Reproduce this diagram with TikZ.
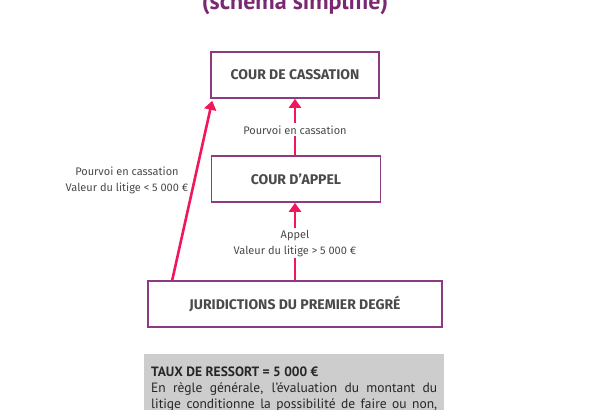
\documentclass[tikz,border=0pt]{standalone}
\usepackage{fontspec}
\setmainfont{Fira Sans}
\newfontfamily\boxfont{PT Sans}
\usetikzlibrary{arrows.meta}
\definecolor{titlepurple}{HTML}{7A2870}
\definecolor{framepurple}{HTML}{8C3A82}
\definecolor{arrowpink}{HTML}{F0185A}
\definecolor{textgrey}{HTML}{4A4A4A}
\definecolor{boxgrey}{HTML}{CDCDCD}
\begin{document}
\begin{tikzpicture}[x=1pt, y=-1pt,
    court/.style={draw=framepurple, line width=1.6pt, fill=white, minimum height=46pt,
        font=\fontsize{14}{16}\selectfont\bfseries, text=textgrey},
    link/.style={draw=arrowpink, line width=2.6pt, -{Triangle[width=12pt,length=9pt]}},
    linklabel/.style={fill=white, font=\fontsize{11}{16}\selectfont, text=textgrey, align=center, inner sep=2pt}]
    \useasboundingbox (0,0) rectangle (590,410);
    \clip (0,0) rectangle (590,410);
    \node[anchor=base, text=titlepurple, font=\boxfont\fontsize{24}{28}\selectfont\bfseries] (title) at (295,9) {(schéma simplifié)};
    \node[court, minimum width=168pt] (cassation) at (295,75) {COUR DE CASSATION};
    \node[court, minimum width=169pt] (appel) at (296,179) {COUR D’APPEL};
    \node[court, minimum width=294pt] (premier) at (295,304) {JURIDICTIONS DU PREMIER DEGRÉ};
    \draw[link] (appel.north -| cassation.south) -- node[linklabel, pos=0.45] (pourvoi) {Pourvoi en cassation} (cassation.south);
    \draw[link] (premier.north) -- node[linklabel, pos=0.48] (appelvaleur) {Appel\\Valeur du litige > 5 000 €} (premier.north |- appel.south);
    \draw[link] ([xshift=25pt]premier.north west) -- ([xshift=2pt, yshift=-2pt]cassation.south west);
    \node[linklabel, fill=none] (pourvoigauche) at (127,180) {Pourvoi en cassation\\Valeur du litige < 5 000 €};
    \node[fill=boxgrey, anchor=north west, minimum width=300pt, minimum height=70pt, text width=286pt,
        inner xsep=7pt, inner ysep=2pt, align=justify, text=black!85,
        font=\boxfont\fontsize{13.5}{16}\selectfont] (ressort) at (144,354)
        {\textbf{TAUX DE RESSORT = 5 000 €}\par
        {\parfillskip=0pt En règle générale, l’évaluation du montant du\par
        litige conditionne la possibilité de faire ou non,\par}};
\end{tikzpicture}
\end{document}
